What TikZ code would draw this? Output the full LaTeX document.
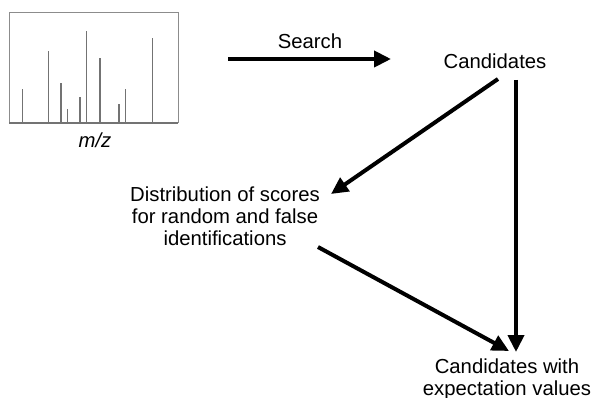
\documentclass[tikz,border=0pt]{standalone}
\usepackage{fontspec}
\setmainfont{Liberation Sans}
\usetikzlibrary{arrows.meta}
\begin{document}
\begin{tikzpicture}[x=1pt,y=-1pt,
  lbl/.style={font=\fontsize{20.3}{22}\selectfont, align=center, inner sep=0pt},
  bigarrow/.style={line width=4pt, -{Triangle[length=17pt,width=16pt]}, shorten >=0pt},
  specframe/.style={draw=black!45, line width=1pt},
  peak/.style={draw=black!55, line width=1.3pt}]
\useasboundingbox (0,0) rectangle (592,398);
% spectrum
\draw[specframe] (9,123) -- (9,13) -- (178,13) -- (178,123);
\draw[draw=black!55, line width=1.3pt] (9,123) -- (178,123);
\foreach \px/\py in {22.3/89, 48.7/51, 61/83, 67.3/109, 80/97, 86.7/31, 100/58, 119/104, 125.3/89, 152.3/38}
  \draw[peak] (\px,123) -- (\px,\py);
\node[lbl, font=\fontsize{20.3}{22}\selectfont\itshape] (mz) at (95,140) {m/z};
% nodes
\node[lbl] (search) at (310,41) {Search};
\coordinate (s0) at (228,59);
\coordinate (s1) at (391,59);
\node[lbl] (cand) at (495,61) {Candidates};
\node[lbl] (dist) at (225,216) {Distribution of scores\\for random and false\\identifications};
\node[lbl] (exp) at (507,379) {Candidates with\\expectation values};
% connectors
\coordinate (c1) at (498,79);
\coordinate (d1) at (331,194);
\coordinate (v0) at (516,80);
\coordinate (v1) at (516,352);
\coordinate (e0) at (318,247);
\coordinate (e1) at (509,351);
\draw[bigarrow] (s0) -- (s1);
\draw[bigarrow] (c1) -- (d1);
\draw[bigarrow] (v0) -- (v1);
\draw[bigarrow] (e0) -- (e1);
\end{tikzpicture}
\end{document}
